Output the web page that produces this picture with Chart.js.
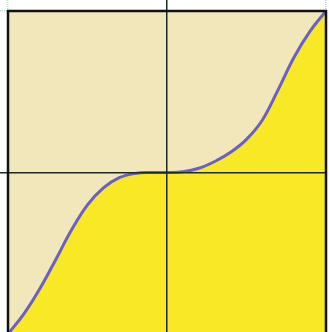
<!DOCTYPE html>
<html>
<head>
<meta charset="utf-8">
<script src="https://cdn.jsdelivr.net/npm/chart.js@4"></script>
<style>
html,body{margin:0;padding:0;overflow:hidden;background:#fff;}
#wrap{position:absolute;left:0;top:0;width:329px;height:336px;}
</style>
</head>
<body>
<div id="wrap"><canvas id="myChart"></canvas></div>
<script>
// curve
var xVals = [-1, -0.9, -0.8, -0.7, -0.6, -0.5, -0.4, -0.3, -0.2, -0.1, 0, 0.1, 0.2, 0.3, 0.4, 0.5, 0.6, 0.7, 0.8, 0.9, 1];
var yVals = [-1, -0.875, -0.72, -0.54, -0.355, -0.2, -0.095, -0.032, -0.006, 0, 0, 0.005, 0.026, 0.068, 0.125, 0.205, 0.325, 0.515, 0.715, 0.875, 1];
var tickVals = [-1, 0, 1];

var pts = xVals.map(function(x, i){ return {x: x, y: yVals[i]}; });

var frame = {
    id: 'frame',
    afterDraw: function(chart){
        var a = chart.chartArea, c = chart.ctx;
        c.save();
        c.strokeStyle = '#111';
        c.lineWidth = 2.5;
        c.strokeRect(a.left, a.top, a.right - a.left, a.bottom - a.top);
        c.restore();
    }
};

function gridOpts(){
    return {
        z: 1,
        color: function(ctx){ return ctx.tick && ctx.tick.value === 0 ? '#1c2a24' : 'rgba(0,0,0,0)'; },
        tickColor: function(ctx){ return ctx.tick && ctx.tick.value === 0 ? '#1c2a24' : '#bfe0c6'; },
        tickBorderDash: function(ctx){ return ctx.tick && ctx.tick.value === 0 ? [] : [1, 1]; },
        lineWidth: 1.5,
        tickWidth: 1.5
    };
}

var ctx = document.getElementById('myChart');
var chart = new Chart(ctx, {
    type: 'scatter',
    data: {
        datasets: [{
            data: pts,
            showLine: true,
            borderColor: '#6a5fc4',
            borderWidth: 3,
            pointRadius: 0,
            tension: 0.4,
            backgroundColor: '#f9e825',
            fill: 'start',
            order: 1
        }, {
            data: pts,
            showLine: true,
            borderWidth: 0,
            borderColor: 'rgba(0,0,0,0)',
            pointRadius: 0,
            tension: 0.4,
            backgroundColor: '#f1e7bb',
            fill: 'end',
            order: 2
        }]
    },
    options: {
        responsive: true,
        maintainAspectRatio: false,
        animation: false,
        layout: {padding: {left: 0, top: 0, right: 3, bottom: 2}},
        plugins: {legend: {display: false}, tooltip: {enabled: false}},
        scales: {
            x: {
                type: 'linear', position: 'top', min: -1, max: 1,
                afterBuildTicks: function(s){ s.ticks = tickVals.map(function(v){ return {value: v}; }); },
                ticks: {display: false},
                grid: Object.assign(gridOpts(), {tickLength: 11}),
                border: {display: false}
            },
            y: {
                type: 'linear', position: 'left', min: -1, max: 1,
                afterBuildTicks: function(s){ s.ticks = tickVals.map(function(v){ return {value: v}; }); },
                ticks: {display: false},
                grid: Object.assign(gridOpts(), {tickLength: 8}),
                border: {display: false}
            }
        }
    },
    plugins: [frame]
});
</script>
</body>
</html>
